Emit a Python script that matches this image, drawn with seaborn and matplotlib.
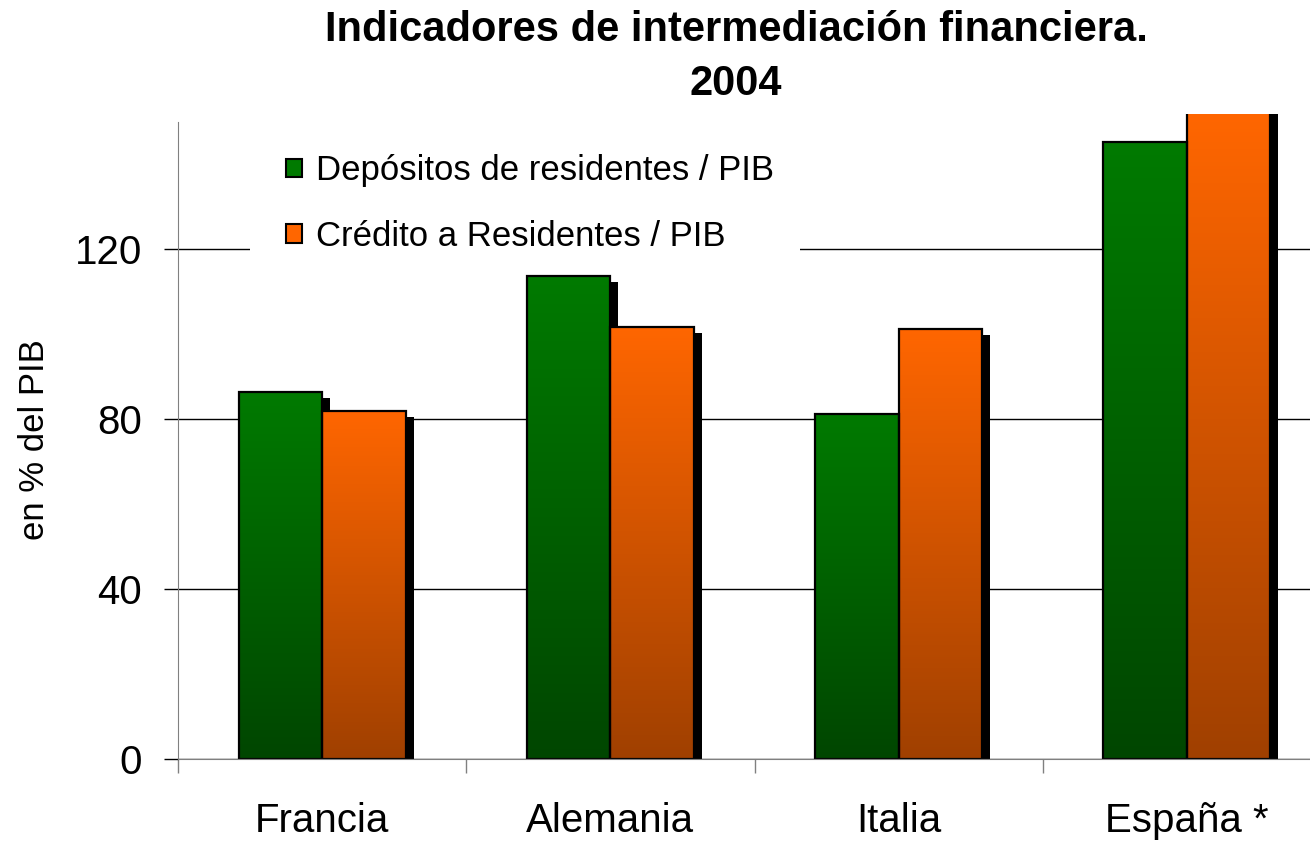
import numpy as np
import pandas as pd
import matplotlib.pyplot as plt
import matplotlib.transforms as mtransforms
from matplotlib.patches import Patch, Rectangle
import seaborn as sns

# datos (en % del PIB)
paises = ["Francia", "Alemania", "Italia", "España *"]
depositos = [86.4, 113.7, 81.3, 145.1]
credito = [82.0, 101.7, 101.2, 155.0]
series = ["Depósitos de residentes / PIB", "Crédito a Residentes / PIB"]
yticks = [0, 40, 80, 120]

df = pd.DataFrame({
    "pais": paises * 2,
    "serie": [series[0]] * len(paises) + [series[1]] * len(paises),
    "valor": depositos + credito,
})

sns.set_style("white")
plt.rcParams["font.family"] = ["Liberation Sans", "DejaVu Sans"]
plt.rcParams.update({"text.color": "black", "axes.labelcolor": "black",
                     "xtick.color": "black", "ytick.color": "black"})

W, H = 1310, 842
YMAX = 151.8
fig = plt.figure(figsize=(W / 100, H / 100), dpi=100)
ax = fig.add_axes([178 / W, 83 / H, (1331 - 178) / W, (759 - 114) / H])

sns.barplot(data=df, x="pais", y="valor", hue="serie",
            palette=["#007800", "#ff6600"], saturation=1, width=0.58,
            edgecolor="black", linewidth=1.6, legend=False, ax=ax)

# degradado (claro arriba, oscuro abajo) + sombra negra
cols = [((0, 122 / 255, 0), (0, 70 / 255, 0)),
        ((1.0, 102 / 255, 0), (160 / 255, 64 / 255, 0))]
shadow = ax.transData + mtransforms.ScaledTranslation(8 / 100, -6 / 100, fig.dpi_scale_trans)
bars = list(ax.patches)
for i, bar in enumerate(bars):
    x0, w, h = bar.get_x(), bar.get_width(), bar.get_height()
    top, bot = cols[i // len(paises)]
    t = np.linspace(0, 1, 256)[:, None, None]
    grad = np.array(bot)[None, None, :] * (1 - t) + np.array(top)[None, None, :] * t
    im = ax.imshow(grad, extent=[x0, x0 + w, 0, min(h, YMAX)], origin="lower",
                   aspect="auto", zorder=1.8)
    im.set_clip_path(bar)
    ax.add_patch(Rectangle((x0, 0), w, h, transform=shadow,
                           facecolor="black", edgecolor="none", zorder=1.5))
    bar.set_facecolor("none")
    bar.set_zorder(2)

ax.set_ylim(0, YMAX)
ax.set_xlim(-0.5, 3.5)

ax.set_yticks(yticks)
ax.yaxis.grid(True, color="black", linewidth=1)
ax.set_axisbelow(True)
ax.tick_params(axis="y", labelsize=29, length=10, width=1, color="black",
               direction="out", pad=16, left=True)
ax.set_xticks(range(len(paises)))
ax.set_xticklabels(paises)
ax.set_xticks([-0.5, 0.5, 1.5, 2.5, 3.5], minor=True)
ax.tick_params(axis="x", which="major", labelsize=29, length=0, pad=31)
ax.tick_params(axis="x", which="minor", length=10, width=1, color="#808080",
               direction="out", bottom=True)

for s in ["top", "right"]:
    ax.spines[s].set_visible(False)
ax.spines["left"].set_color("#808080")
ax.spines["left"].set_bounds(0, 150)
ax.spines["bottom"].set_color("#808080")

ax.set_xlabel("")
ax.set_ylabel("en % del PIB", fontsize=25)
ax.yaxis.set_label_coords(-0.11, 0.495)

# fondo blanco de la leyenda (tapa la linea de 120)
ax.add_patch(Rectangle((0.0624, 0.77), 0.477, 0.2, transform=ax.transAxes,
                       facecolor="white", edgecolor="none", zorder=4))
handles = [Patch(facecolor=cols[0][0], edgecolor="black", linewidth=1.5),
           Patch(facecolor=cols[1][0], edgecolor="black", linewidth=1.5)]
leg = ax.legend(handles, series, loc="upper left", bbox_to_anchor=(0.082, 0.959),
                fontsize=25, frameon=False, borderaxespad=0,
                borderpad=0.4, handlelength=0.46, handleheight=0.46,
                handletextpad=0.4, labelspacing=0.93)
leg.set_zorder(5)

fig.text(736 / W, 1 - 10 / H, "Indicadores de intermediación financiera.\n2004",
         ha="center", va="top", fontsize=30, fontweight="bold", linespacing=1.45)

fig.savefig("out.png", dpi=100)
